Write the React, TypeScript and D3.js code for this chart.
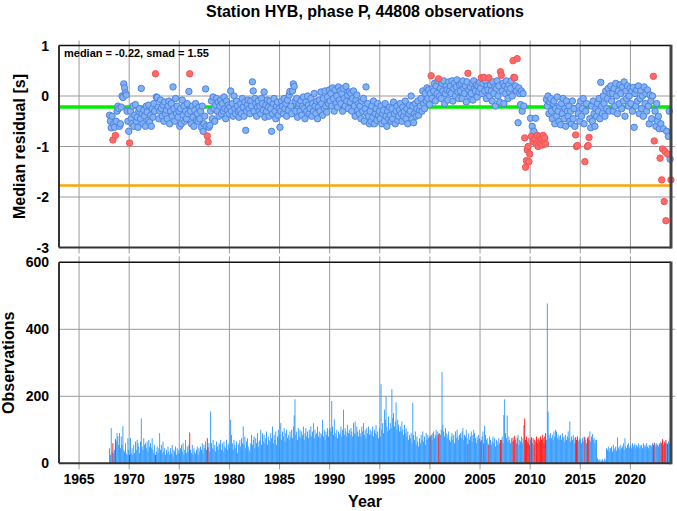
import React from "react";
import * as d3 from "d3";

// ---------- DATA ----------
const titleText = "Station HYB, phase P, 44808 observations";
const statsText = "median = -0.22, smad = 1.55";
const medianValue = -0.22;
const smadValue = 1.55;
const startYear = 1968;

const xTicks = [1965, 1970, 1975, 1980, 1985, 1990, 1995, 2000, 2005, 2010, 2015, 2020];
const resTicks = [1, 0, -1, -2, -3];
const obsTicks = [0, 200, 400, 600];

// monthly median residuals, Jan 1968 onward
const res1968_1979: number[] = [
  -0.38, -0.5, -0.63, -0.4, -0.87, -0.55, -0.62, -0.78, -0.5, -0.3, -0.2, -0.25,
  -0.6, -0.55, -0.22, 0.0, -0.03, 0.24, 0.16, 0.06, 0.02, -0.3, -0.5, -0.7,
  -0.93, -0.3, -0.45, -0.55, -0.2, -0.6, -0.38, -0.17, -0.5, -0.42, -0.62, -0.3,
  -0.25, -0.45, 0.15, -0.35, -0.55, -0.28, -0.4, -0.6, -0.2, -0.32, -0.48, -0.18,
  -0.52, -0.38, -0.6, -0.25, -0.42, -0.15, -0.3, 0.44, -0.02, -0.03, -0.22, -0.45,
  -0.3, -0.08, -0.25, -0.4, -0.18, -0.5, -0.12, -0.35, -0.28, -0.45, -0.2, -0.1,
  -0.55, -0.3, -0.15, -0.4, 0.18, -0.25, -0.5, -0.05, -0.35, -0.2, -0.42, -0.3,
  -0.6, -0.25, -0.55, -0.08, -0.38, -0.2, -0.5, -0.3, -0.45, -0.15, -0.35, 0.09,
  0.44, -0.3, -0.55, -0.2, -0.42, -0.6, -0.28, -0.15, -0.48, -0.35, -0.5, -0.22,
  -0.45, -0.3, -0.62, -0.2, -0.7, -0.55, -0.4, 0.14, -0.6, -0.79, -0.91, -0.62,
  -0.58, -0.3, -0.1, -0.45, -0.02, -0.25, -0.5, -0.18, -0.05, -0.3, -0.12, -0.4,
  -0.2, -0.08, -0.35, -0.15, -0.3, -0.02, -0.25, -0.45, -0.1, -0.28, -0.18, -0.35,
];
const res1980_1989: number[] = [
  -0.22, 0.1, -0.3, -0.15, -0.4, 0.0, -0.25, -0.35, -0.1, -0.2, -0.3, -0.42,
  -0.28, -0.15, -0.35, -0.05, -0.22, -0.4, -0.12, -0.68, -0.3, -0.18, -0.08, -0.25,
  -0.35, -0.1, -0.2, 0.28, 0.1, -0.3, -0.05, -0.15, -0.4, -0.22, -0.1, -0.3,
  -0.2, -0.35, -0.05, -0.15, -0.28, 0.08, -0.42, -0.18, -0.3, -0.08, -0.22, -0.4,
  -0.1, -0.25, -0.7, -0.35, -0.15, -0.05, -0.3, -0.45, -0.2, -0.12, -0.38, -0.25,
  -0.62, -0.3, -0.1, -0.2, -0.35, -0.05, -0.25, -0.15, -0.4, -0.08, -0.28, 0.02,
  0.09, -0.2, -0.35, 0.1, 0.24, 0.19, -0.1, -0.3, -0.05, -0.42, -0.2, -0.15,
  -0.3, -0.1, -0.38, -0.2, -0.02, -0.25, -0.45, -0.12, -0.3, 0.0, -0.18, -0.35,
  -0.25, -0.05, -0.4, -0.15, -0.3, 0.05, -0.2, -0.35, -0.1, -0.45, -0.22, -0.08,
  -0.3, 0.08, -0.15, -0.38, -0.05, -0.25, 0.1, -0.2, -0.32, -0.02, -0.15, 0.12,
];
const res1990_1999: number[] = [
  -0.1, 0.05, -0.2, 0.16, -0.05, -0.3, 0.12, -0.15, 0.0, -0.22, 0.18, -0.08,
  0.1, -0.15, 0.05, -0.3, 0.15, -0.05, -0.2, 0.19, -0.1, 0.02, -0.25, 0.08,
  -0.12, 0.05, -0.3, -0.05, 0.1, -0.2, -0.4, -0.08, 0.02, -0.28, -0.15, -0.35,
  -0.2, -0.45, -0.1, -0.3, -0.05, -0.5, -0.25, 0.18, -0.35, -0.15, -0.4, -0.55,
  -0.3, -0.5, -0.2, -0.42, -0.1, -0.55, -0.35, -0.25, -0.48, -0.15, -0.38, -0.3,
  -0.45, -0.2, -0.55, -0.35, -0.28, -0.5, -0.15, -0.4, -0.6, -0.3, -0.45, -0.22,
  -0.38, -0.5, -0.25, -0.45, -0.12, -0.35, -0.55, -0.3, -0.2, -0.48, -0.4, -0.28,
  -0.15, -0.35, -0.5, -0.22, -0.4, -0.3, -0.1, -0.45, -0.25, -0.55, -0.35, -0.18,
  -0.3, 0.0, -0.45, -0.2, -0.53, -0.35, -0.15, -0.4, -0.25, -0.1, -0.38, -0.28,
  -0.2, -0.05, -0.3, 0.1, -0.15, -0.25, 0.05, -0.1, 0.16, -0.05, 0.12, -0.17,
];
const res2000_2009: number[] = [
  0.05, 0.4, -0.05, 0.15, 0.1, 0.25, -0.1, 0.2, 0.05, 0.3, 0.34, 0.0,
  0.15, -0.05, 0.25, 0.1, 0.3, -0.15, 0.05, 0.2, 0.12, -0.08, 0.28, 0.1,
  0.2, 0.05, 0.3, -0.1, 0.15, 0.25, 0.0, 0.18, 0.32, 0.08, -0.05, 0.22,
  0.1, 0.25, -0.05, 0.3, 0.15, 0.05, 0.2, -0.12, 0.28, 0.45, 0.12, 0.0,
  0.18, 0.05, 0.25, -0.08, 0.3, 0.15, 0.1, 0.22, -0.02, 0.2, 0.08, 0.27,
  0.15, 0.36, 0.05, 0.25, 0.37, 0.1, 0.3, -0.05, 0.2, 0.12, 0.36, 0.0,
  0.22, 0.1, -0.1, 0.28, 0.05, 0.18, -0.2, 0.15, 0.3, 0.0, 0.2, -0.12,
  0.48, 0.41, 0.1, 0.25, -0.15, 0.2, 0.05, 0.3, 0.15, -0.05, 0.22, 0.08,
  0.15, 0.3, 0.0, 0.7, 0.37, 0.36, 0.2, 0.1, 0.74, -0.53, 0.16, 0.05,
  -0.17, 0.1, -0.3, 0.05, -0.2, -0.83, -1.41, -1.28, -1.07, -1.0, -1.3, -1.15,
];
const res2010_2019: number[] = [
  -0.44, -0.8, -0.6, -0.9, -0.7, -0.85, -0.44, -0.95, -0.78, -1.0, -0.88, -0.8,
  -0.92, -0.85, -0.97, -0.78, -0.9, -0.83, -0.95, -0.07, -0.2, 0.0, -0.35, -0.12,
  -0.05, -0.3, -0.45, -0.15, -0.1, -0.55, -0.25, -0.4, -0.02, -0.3, -0.5, -0.2,
  -0.57, -0.15, -0.35, -0.05, -0.45, -0.25, -0.6, -0.1, -0.3, -0.4, -0.2, -0.5,
  -0.3, -0.55, -0.1, -0.45, -0.25, -0.6, -0.77, -1.0, -0.98, -0.35, -0.2, -0.5,
  -0.1, -0.4, -0.25, -0.05, -0.55, -1.3, -0.3, -0.15, -1.0, -0.98, -0.82, -0.45,
  -0.63, -0.2, -0.5, -0.1, -0.35, -0.6, -0.25, -0.4, -0.15, -0.3, -0.05, -0.45,
  0.27, -0.2, -0.35, 0.0, -0.15, -0.4, 0.1, -0.25, -0.05, 0.15, -0.3, 0.05,
  0.2, -0.1, 0.05, -0.3, 0.15, -0.2, 0.25, 0.0, -0.35, 0.1, -0.15, 0.22,
  0.05, -0.25, 0.18, -0.1, 0.28, -0.4, 0.1, -0.05, 0.2, -0.2, 0.0, 0.15,
];
const res2020_2024: number[] = [
  -0.15, 0.1, -0.3, 0.17, -0.62, 0.05, -0.2, 0.12, -0.1, 0.2, -0.35, -0.05,
  0.1, -0.25, 0.0, -0.4, 0.18, -0.15, 0.05, -0.3, 0.12, -0.2, -0.55, 0.02,
  -0.1, -0.45, 0.0, 0.39, -0.89, -0.3, -0.6, -0.15, -0.5, -0.4, -0.65, -1.23,
  -0.55, -1.66, -1.05, -0.65, -2.09, -1.1, -2.47, -0.7, -1.15, -0.8, -0.3, -1.25,
  -1.66,
];

// monthly observation counts, Jan 1968 onward
const obs1968_1979: number[] = [
  45, 25, 105, 35, 60, 30, 40, 72, 65, 90, 80, 55,
  90, 45, 80, 55, 111, 40, 35, 60, 30, 25, 75, 40,
  25, 75, 30, 45, 25, 55, 30, 65, 40, 70, 60, 50,
  30, 65, 134, 50, 40, 75, 55, 60, 45, 65, 35, 70,
  50, 60, 45, 75, 40, 30, 55, 25, 35, 50, 30, 45,
  90, 40, 55, 30, 65, 35, 45, 25, 40, 30, 50, 35,
  25, 45, 30, 55, 20, 40, 35, 50, 25, 45, 30, 40,
  30, 45, 55, 35, 60, 25, 40, 70, 30, 50, 35, 55,
  92, 40, 30, 55, 25, 45, 35, 30, 40, 50, 25, 45,
  35, 50, 40, 60, 30, 55, 45, 65, 40, 75, 48, 60,
  35, 155, 60, 45, 70, 40, 55, 35, 65, 50, 40, 60,
  55, 70, 40, 60, 35, 65, 50, 45, 70, 40, 55, 60,
];
const obs1980_1989: number[] = [
  45, 130, 85, 60, 40, 70, 55, 45, 65, 30, 55, 60,
  70, 50, 75, 60, 110, 55, 80, 45, 65, 75, 50, 40,
  35, 60, 85, 55, 70, 80, 45, 75, 60, 90, 50, 65,
  70, 100, 55, 90, 65, 85, 60, 75, 95, 55, 80, 70,
  65, 90, 75, 110, 60, 85, 70, 95, 55, 80, 100, 75,
  85, 120, 70, 95, 80, 105, 65, 90, 100, 75, 85, 70,
  95, 80, 100, 75, 110, 143, 191, 85, 95, 70, 105, 80,
  100, 75, 95, 85, 110, 70, 90, 105, 80, 95, 75, 100,
  85, 110, 80, 95, 120, 75, 100, 85, 90, 110, 80, 95,
  75, 90, 85, 130, 80, 100, 70, 95, 85, 105, 80, 100,
];
const obs1990_1999: number[] = [
  105, 95, 186, 110, 85, 131, 90, 80, 100, 75, 95, 85,
  90, 110, 80, 100, 160, 85, 105, 95, 80, 115, 90, 100,
  85, 105, 95, 80, 120, 90, 125, 85, 110, 95, 80, 100,
  90, 80, 110, 95, 120, 85, 100, 75, 105, 90, 110, 85,
  100, 85, 95, 110, 80, 100, 90, 115, 85, 95, 75, 105,
  80, 236, 100, 120, 90, 160, 130, 200, 110, 95, 140, 100,
  120, 105, 221, 135, 150, 110, 125, 182, 100, 130, 115, 95,
  110, 95, 125, 100, 85, 115, 90, 105, 80, 95, 70, 85,
  75, 90, 60, 180, 85, 70, 95, 55, 80, 65, 50, 75,
  60, 85, 70, 95, 65, 80, 55, 90, 70, 85, 75, 80,
];
const obs2000_2009: number[] = [
  80, 85, 70, 90, 95, 75, 85, 100, 80, 95, 87, 90,
  85, 100, 272, 115, 95, 80, 105, 90, 75, 85, 95, 70,
  65, 80, 90, 70, 85, 60, 95, 75, 100, 80, 70, 85,
  90, 75, 95, 105, 70, 85, 80, 100, 75, 57, 90, 70,
  80, 95, 65, 85, 100, 90, 75, 60, 80, 70, 85, 75,
  65, 70, 80, 95, 60, 112, 85, 70, 75, 60, 55, 80,
  70, 55, 65, 80, 60, 75, 50, 70, 65, 55, 75, 60,
  70, 70, 80, 60, 144, 191, 90, 75, 143, 65, 80, 70,
  60, 75, 65, 77, 68, 82, 70, 60, 75, 85, 55, 70,
  65, 80, 60, 75, 114, 134, 70, 80, 65, 60, 75, 55,
];
const obs2010_2019: number[] = [
  70, 78, 60, 75, 55, 70, 65, 80, 60, 70, 75, 65,
  80, 70, 85, 75, 60, 80, 90, 70, 477, 154, 85, 75,
  90, 75, 85, 70, 95, 80, 100, 95, 75, 85, 70, 80,
  85, 70, 90, 75, 80, 65, 85, 70, 80, 95, 75, 125,
  65, 80, 70, 85, 75, 60, 78, 70, 80, 65, 70, 75,
  70, 60, 75, 65, 80, 78, 70, 60, 75, 80, 70, 95,
  65, 80, 87, 70, 75, 60, 70, 70, 15, 10, 8, 12,
  5, 8, 12, 5, 10, 15, 8, 45, 40, 50, 35, 45,
  45, 50, 35, 55, 40, 45, 50, 38, 77, 45, 50, 40,
  55, 45, 50, 60, 40, 75, 50, 45, 55, 60, 45, 50,
];
const obs2020_2024: number[] = [
  55, 45, 60, 50, 55, 58, 45, 55, 50, 60, 45, 55,
  50, 55, 45, 60, 50, 55, 48, 60, 50, 45, 55, 52,
  55, 50, 60, 55, 62, 58, 50, 60, 55, 50, 58, 60,
  65, 60, 72, 55, 65, 60, 70, 62, 58, 65, 60, 75,
  70,
];

// months flagged as outliers [year, month]
const flaggedMonths: [number, number][] = [
  [1968, 5], [1968, 8], [1970, 1], [1972, 8], [1976, 1], [1977, 10], [1977, 11],
  [2000, 2], [2000, 11], [2003, 10], [2005, 2], [2005, 5], [2005, 11], [2007, 1], [2007, 2],
  [2008, 4], [2008, 5], [2008, 6], [2008, 9],
  [2009, 6], [2009, 7], [2009, 8], [2009, 9], [2009, 10], [2009, 11], [2009, 12],
  [2010, 2], [2010, 4], [2010, 6], [2010, 8], [2010, 9], [2010, 10], [2010, 11], [2010, 12],
  [2011, 1], [2011, 2], [2011, 3], [2011, 4], [2011, 5], [2011, 6], [2011, 7],
  [2014, 7], [2014, 8], [2014, 9], [2015, 6], [2015, 9], [2015, 10], [2015, 11],
  [2022, 4], [2022, 5], [2022, 12], [2023, 2], [2023, 3], [2023, 5], [2023, 6], [2023, 7], [2023, 9],
  [2024, 1],
];

// ---------- BUILD ----------
const residuals = [...res1968_1979, ...res1980_1989, ...res1990_1999, ...res2000_2009, ...res2010_2019, ...res2020_2024];
const counts = [...obs1968_1979, ...obs1980_1989, ...obs1990_1999, ...obs2000_2009, ...obs2010_2019, ...obs2020_2024];
const flaggedSet = new Set(flaggedMonths.map(([y, m]) => (y - startYear) * 12 + (m - 1)));

const months = residuals.map((r, i) => ({
  t: startYear + i / 12,
  res: r,
  n: counts[i] ?? 0,
  bad: flaggedSet.has(i),
}));

const W = 677, H = 511;
const L = 59, R = 671;
const topT = 45.5, topB = 247.5;
const botT = 262.3, botB = 463.3;

const x = d3.scaleLinear().domain([1963, 2024.05]).range([L, R]);
const yRes = d3.scaleLinear().domain([-3, 1]).range([topB, topT]);
const yObs = d3.scaleLinear().domain([0, 600]).range([botB, botT]);

const FONT = "'Liberation Sans', Arial, Helvetica, sans-serif";
const gridColor = "#9a9a9a";
const axisColor = "#333";

export default function App() {
  const blue = months.filter((d) => !d.bad);
  const red = months.filter((d) => d.bad);
  return (
    <svg width={W} height={H} style={{ position: "absolute", left: 0, top: 0, background: "#fff" }} fontFamily={FONT}>
      <rect x={0} y={0} width={W} height={H} fill="#fff" />
      <text x={(L + R) / 2} y={17} textAnchor="middle" fontSize={16} fontWeight="bold">{titleText}</text>

      {/* ---- top panel ---- */}
      <g>
        {xTicks.map((t) => (
          <line key={"gx" + t} x1={x(t)} x2={x(t)} y1={topT - 5} y2={topB + 6} stroke={gridColor} strokeWidth={1} />
        ))}
        {resTicks.filter((v) => v > -3 && v < 1).map((v) => (
          <line key={"gy" + v} x1={L} x2={R + 4} y1={yRes(v)} y2={yRes(v)} stroke={gridColor} strokeWidth={1} />
        ))}
        <line x1={L} x2={R} y1={yRes(medianValue)} y2={yRes(medianValue)} stroke="#00ee00" strokeWidth={3.5} />
        <line x1={L} x2={R} y1={yRes(medianValue - smadValue)} y2={yRes(medianValue - smadValue)} stroke="#ffa500" strokeWidth={2.5} />
        {blue.map((d, i) => (
          <circle key={"b" + i} cx={x(d.t + 1 / 24)} cy={yRes(d.res)} r={3.2} fill="#80b3f2" stroke="#4f80e6" strokeWidth={1} />
        ))}
        {red.map((d, i) => (
          <circle key={"r" + i} cx={x(d.t + 1 / 24)} cy={yRes(d.res)} r={3.2} fill="#ff6b6b" stroke="#f25252" strokeWidth={1} />
        ))}
        <line x1={L} x2={R} y1={topT} y2={topT} stroke="#111" strokeWidth={1.5} />
        <line x1={L} x2={L} y1={topT} y2={topB} stroke={axisColor} strokeWidth={2} />
        <line x1={L} x2={R} y1={topB} y2={topB} stroke={axisColor} strokeWidth={2} />
        <line x1={R} x2={R} y1={topT - 0.75} y2={topB + 1} stroke="#444" strokeWidth={3} />
        {resTicks.map((v) => (
          <text key={"ty" + v} x={49} y={yRes(v)} dy="0.36em" textAnchor="end" fontSize={14} fontWeight="bold">{v}</text>
        ))}
        <text x={64} y={57} fontSize={11} fontWeight="bold">{statsText}</text>
        <text transform={`translate(25,${(topT + topB) / 2}) rotate(-90)`} textAnchor="middle" fontSize={16} fontWeight="bold">Median residual [s]</text>
      </g>

      {/* ---- bottom panel ---- */}
      <g>
        {xTicks.map((t) => (
          <line key={"bx" + t} x1={x(t)} x2={x(t)} y1={botT - 6} y2={botB + 6} stroke={gridColor} strokeWidth={1} />
        ))}
        {obsTicks.filter((v) => v > 0 && v < 600).map((v) => (
          <line key={"by" + v} x1={L} x2={R + 4} y1={yObs(v)} y2={yObs(v)} stroke={gridColor} strokeWidth={1} />
        ))}
        {months.map((d, i) => (
          <rect
            key={"bar" + i}
            x={x(d.t)}
            y={yObs(d.n)}
            width={x(d.t + 1 / 12) - x(d.t)}
            height={yObs(0) - yObs(d.n)}
            fill={d.bad ? "#ff0000" : "#1e90ff"}
          />
        ))}
        <line x1={L} x2={R} y1={botT} y2={botT} stroke="#111" strokeWidth={1.5} />
        <line x1={L} x2={L} y1={botT} y2={botB} stroke={axisColor} strokeWidth={2} />
        <line x1={L} x2={R} y1={botB} y2={botB} stroke={axisColor} strokeWidth={2} />
        <line x1={R} x2={R} y1={botT - 0.75} y2={botB + 1} stroke="#444" strokeWidth={3} />
        {obsTicks.map((v) => (
          <text key={"oy" + v} x={49} y={yObs(v)} dy="0.36em" textAnchor="end" fontSize={14} fontWeight="bold">{v}</text>
        ))}
        {xTicks.map((t) => (
          <text key={"xl" + t} x={x(t)} y={484} textAnchor="middle" fontSize={14} fontWeight="bold">{t}</text>
        ))}
        <text transform={`translate(14,${(botT + botB) / 2}) rotate(-90)`} textAnchor="middle" fontSize={16} fontWeight="bold">Observations</text>
        <text x={(L + R) / 2} y={507} textAnchor="middle" fontSize={16} fontWeight="bold">Year</text>
      </g>
    </svg>
  );
}
